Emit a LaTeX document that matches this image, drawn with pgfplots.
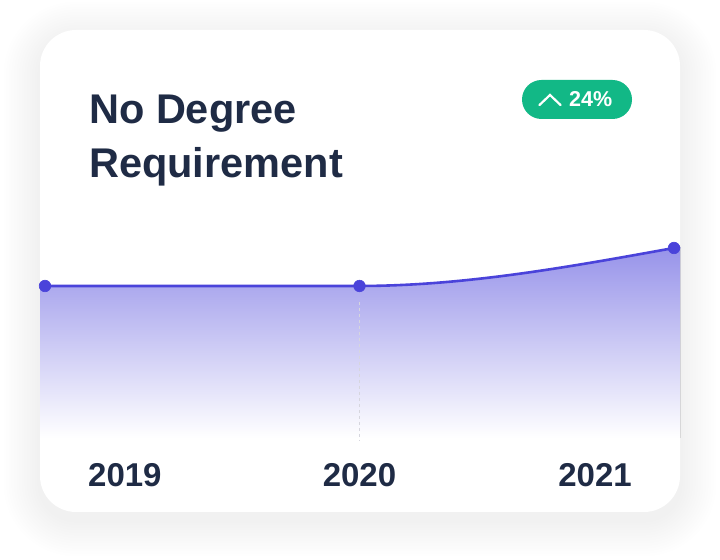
\documentclass[border=0pt]{standalone}
\usepackage{pgfplots}
\pgfplotsset{compat=1.18}
\usepackage{pgfplotstable}
\usepackage{fontspec}
\setmainfont{Liberation Sans}

\definecolor{navy}{HTML}{1F2B45}
\definecolor{indigo}{HTML}{4A43DA}
\definecolor{pill}{HTML}{12B886}
\definecolor{guide}{HTML}{D6D6DE}

% yearly index (2019 = 100)
\pgfplotstableread{
idx value
0 100
1 100
2 124
}\yeardata

\begin{document}
\begin{tikzpicture}[
  year/.style={inner sep=0pt, yshift=-41.7bp, text=navy,
    font=\fontsize{33bp}{40bp}\selectfont\bfseries},
]
  \path[use as bounding box, fill=white] (0,0) rectangle (720bp,560bp);

  % soft card shadow
  \foreach \i in {1,...,14} {
    \pgfmathsetmacro\rr{36+2.6*\i}
    \pgfmathsetmacro\xa{40-2.6*\i}
    \pgfmathsetmacro\ya{40-2.6*\i}
    \pgfmathsetmacro\xb{680+2.6*\i}
    \pgfmathsetmacro\yb{522+2.6*\i}
    \fill[black, opacity=0.003, rounded corners=\rr bp]
      (\xa bp,\ya bp) rectangle (\xb bp,\yb bp);
  }
  % card
  \fill[white, rounded corners=36bp] (40bp,48bp) rectangle (680bp,530bp);

  % title
  \node[anchor=base west, inner sep=0pt, text=navy,
        font=\fontsize{41.5bp}{50bp}\selectfont\bfseries]
    at (89bp,436bp) {No Degree};
  \node[anchor=base west, inner sep=0pt, text=navy,
        font=\fontsize{41.5bp}{50bp}\selectfont\bfseries]
    at (89bp,382bp) {Requirement};

  % change badge
  \fill[pill, rounded corners=19.5bp] (522bp,441bp) rectangle (632bp,480bp);
  \draw[white, line width=2.2bp, line cap=round, line join=miter]
    (539.5bp,455bp) -- (550bp,465bp) -- (560.5bp,455bp);
  \node[anchor=base west, inner sep=0pt, text=white,
        font=\fontsize{21.5bp}{26bp}\selectfont\bfseries]
    at (569bp,453bp) {24\%};

  \begin{axis}[
    at={(40bp,115.7bp)}, anchor=south west,
    x=314.5bp, y=1.5833bp,
    xmin=-0.0159, xmax=2.0191,
    ymin=0, ymax=124,
    clip=false,
    hide axis,
  ]
    % area under the curve, fading to white, kept inside the card
    \begin{scope}
      \clip (axis cs:-0.0159,0) rectangle (axis cs:2.0191,130);
      \fill[top color=indigo!58!white, bottom color=white]
        (axis cs:-0.04,100) -- (axis cs:0,100) -- (axis cs:1,100)
        .. controls (axis cs:1.3333,100) and (axis cs:1.6667,112) ..
        (axis cs:2,124) -- (axis cs:2.04,125.4)
        -- (axis cs:2.04,4) -- (axis cs:-0.04,4) -- cycle;
    \end{scope}

    % hover guide at 2020
    \draw[guide, line width=1.3bp, dash pattern=on 3bp off 3bp]
      (axis cs:1,90) -- (axis cs:1,2.5);

    % line (monotone curve)
    \draw[indigo, line width=2.6bp]
      (axis cs:-0.0159,100) -- (axis cs:0,100) -- (axis cs:1,100)
      .. controls (axis cs:1.3333,100) and (axis cs:1.6667,112) ..
      (axis cs:2,124) -- (axis cs:2.0191,124.7);

    % data points
    \addplot[only marks, mark=*, mark size=5.8bp,
             mark options={fill=indigo, draw=indigo, line width=0.6bp}]
      table[x=idx, y=value] {\yeardata};

    % year labels under the chart
    \node[year, anchor=base west, xshift=43bp] at (axis cs:0,0) {2019};
    \node[year, anchor=base] at (axis cs:1,0) {2020};
    \node[year, anchor=base east, xshift=-42bp] at (axis cs:2,0) {2021};
  \end{axis}
\end{tikzpicture}
\end{document}
